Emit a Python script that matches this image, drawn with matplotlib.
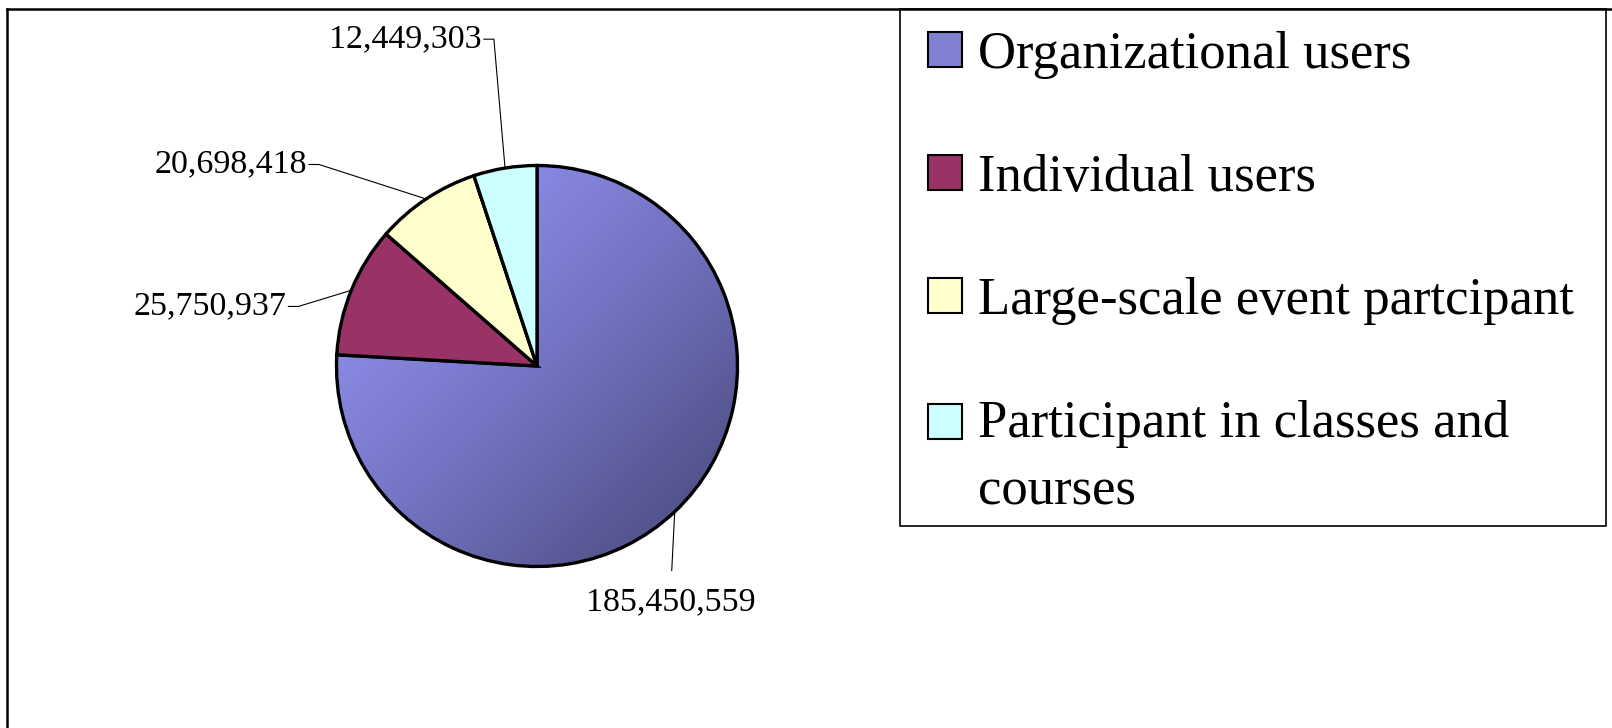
import matplotlib
matplotlib.use("Agg")
import matplotlib.pyplot as plt
import numpy as np
from matplotlib.colors import LinearSegmentedColormap
from matplotlib.lines import Line2D
from matplotlib.patches import Rectangle

plt.rcParams["font.family"] = ["Liberation Serif", "DejaVu Serif"]

categories = [
    "Organizational users",
    "Individual users",
    "Large-scale event partcipant",
    "Participant in classes and\ncourses",
]
values = [185450559, 25750937, 20698418, 12449303]
colors = ["#8080d0", "#993366", "#ffffcc", "#ccffff"]

# label layout in pie-radius units: elbow point of each leader line
label_elbows = [(0.672, -1.02), (-1.19, 0.297), (-1.087, 1.005), (-0.215, 1.63)]

W, H = 1612, 728
fig = plt.figure(figsize=(W / 100, H / 100), dpi=100)

cx, cy, r = 537, 366, 200.5
span = 2.4
ax = fig.add_axes([(cx - span * r) / W, (H - cy - span * r) / H,
                   2 * span * r / W, 2 * span * r / H])

wedges, _ = ax.pie(values, colors=colors, startangle=90, counterclock=False,
                   radius=1.0, wedgeprops=dict(edgecolor="black", linewidth=2.4))
ax.set_aspect("auto")
ax.axis("off")

leg = fig.legend(wedges, categories, loc="upper left",
                 bbox_to_anchor=(928 / W, 1 - 31 / H), frameon=False,
                 fontsize=38, handlelength=0.65, handleheight=0.65,
                 handletextpad=0.3, labelspacing=1.42, borderpad=0,
                 borderaxespad=0)
for h in leg.legend_handles:
    h.set_linewidth(1.5)
for t in leg.get_texts():
    t.set_linespacing(1.52)
# keep the last marker level with the first line of its wrapped label
last = leg.legend_handles[-1]
last.set_y(last.get_y() + 26)

# gradient fill for the big slice
big = wedges[0]
gx, gy = np.meshgrid(np.linspace(-1, 1, 300), np.linspace(1, -1, 300))
t = (gx - gy + 2) / 4
cmap = LinearSegmentedColormap.from_list("grad", ["#9c9cff", "#7474c4", "#454575"])
img = ax.imshow(t, extent=(-1, 1, -1, 1), cmap=cmap, vmin=0, vmax=1,
                zorder=0.5, interpolation="bilinear", aspect="auto")
img.set_clip_path(big)
big.set_facecolor("none")
ax.set_xlim(-span, span)
ax.set_ylim(-span, span)

for i, w in enumerate(wedges):
    ang = np.deg2rad((w.theta1 + w.theta2) / 2)
    ex, ey = np.cos(ang), np.sin(ang)
    bx, by = label_elbows[i]
    text = f"{values[i]:,}"
    if i == 0:
        ax.plot([ex, bx], [ey, by], color="black", lw=0.8, zorder=3)
        ax.text(bx - 0.005, by - 0.08, text, ha="center", va="top", fontsize=24.5)
    else:
        tx = bx - 0.05
        ax.plot([ex, bx, tx], [ey, by, by], color="black", lw=0.8, zorder=3)
        ax.text(tx - 0.01, by, text, ha="right", va="center", fontsize=24.5)

# chart area border (top and left) and legend box
fig.add_artist(Line2D([6.5 / W, 1], [1 - 8.5 / H, 1 - 8.5 / H], color="black", lw=1.8))
fig.add_artist(Line2D([6.5 / W, 6.5 / W], [0, 1 - 8.5 / H], color="black", lw=1.8))
fig.add_artist(Rectangle((900 / W, 1 - 526 / H), (1606 - 900) / W, (526 - 8.5) / H,
                         transform=fig.transFigure, fill=False, edgecolor="black", lw=1.2))

fig.savefig("out.png", dpi=100)
